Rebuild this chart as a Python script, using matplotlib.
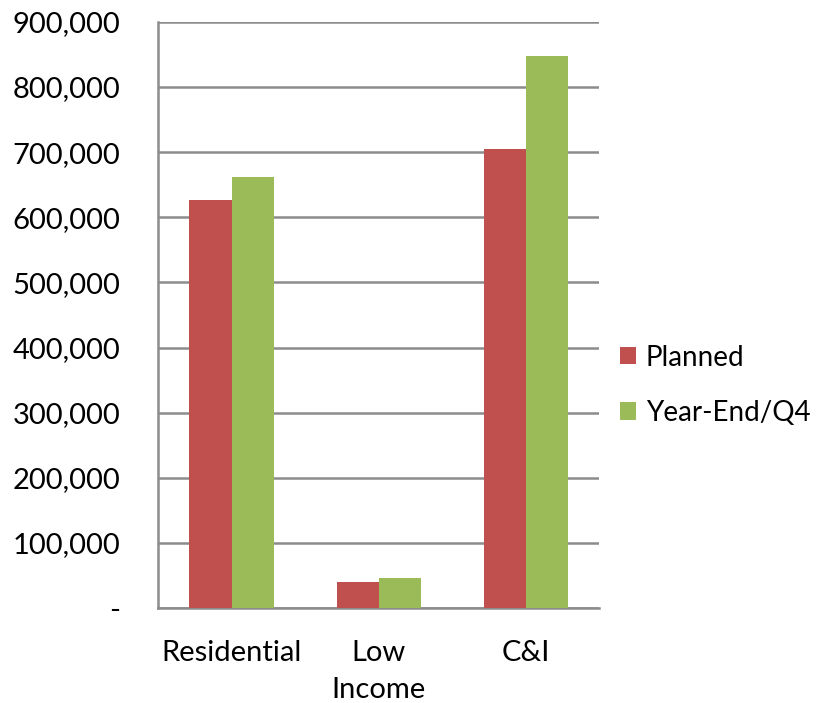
import matplotlib.pyplot as plt
import numpy as np
from matplotlib.ticker import FuncFormatter

categories = ['Residential', 'Low\nIncome', 'C&I']
planned = [627000, 40000, 704000]
year_end = [662000, 46000, 847000]
series_names = ['Planned', 'Year-End/Q4']
y_ticks = np.arange(0, 900001, 100000)

red = '#C0504D'
green = '#9BBB59'
grid_gray = '#8C8C8C'

plt.rcParams['font.family'] = ['Lato', 'DejaVu Sans']

fig = plt.figure(figsize=(8.16, 7.03), dpi=100)
ax = fig.add_axes([0.1936, 0.135, 0.541, 0.834])

x = np.arange(len(categories))
w = 0.286
b1 = ax.bar(x - w / 2, planned, w, color=red, label=series_names[0], zorder=3)
b2 = ax.bar(x + w / 2, year_end, w, color=green, label=series_names[1], zorder=3)

ax.set_xlim(-0.5, len(categories) - 0.5)
ax.set_ylim(0, 900000)
ax.set_yticks(y_ticks)
ax.yaxis.set_major_formatter(FuncFormatter(lambda v, p: '-' if v == 0 else f'{int(v):,}'))
ax.set_xticks(x)
ax.set_xticklabels(categories, linespacing=1.5)
ax.tick_params(axis='both', length=0, labelsize=21, colors='black')
ax.tick_params(axis='y', pad=27)
ax.tick_params(axis='x', pad=23)

ax.yaxis.grid(True, color=grid_gray, linewidth=1.8, zorder=0)
ax.set_axisbelow(True)
for s in ['top', 'right']:
    ax.spines[s].set_visible(False)
ax.spines['left'].set_color(grid_gray)
ax.spines['left'].set_linewidth(1.8)
ax.spines['bottom'].set_color(grid_gray)
ax.spines['bottom'].set_linewidth(1.8)

leg = fig.legend(handles=[b1, b2], labels=series_names, loc='center left',
                 bbox_to_anchor=(0.760, 0.452), frameon=False, fontsize=20,
                 handlelength=0.58, handleheight=0.58, labelspacing=1.05,
                 handletextpad=0.35, borderpad=0, borderaxespad=0)

fig.savefig('out.png', dpi=100)
